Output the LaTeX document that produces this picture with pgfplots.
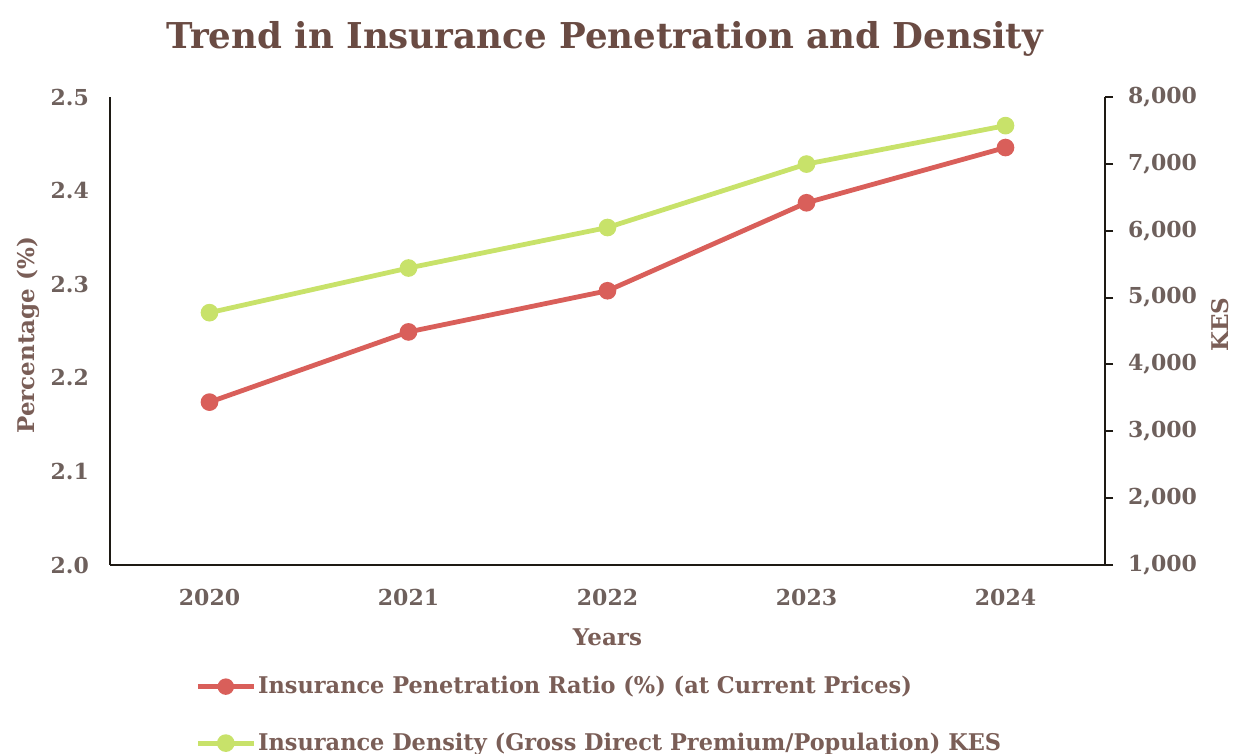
\documentclass[border=0pt]{standalone}
\usepackage{pgfplots}
\pgfplotsset{compat=1.18}
\usepackage{fontspec}
\setmainfont{DejaVu Serif}
\newfontfamily\legfont[FakeStretch=0.975]{DejaVu Serif}
\definecolor{txt}{HTML}{6E605C}
\definecolor{ttl}{HTML}{6A4B43}
\definecolor{lab}{HTML}{7A5E57}
\definecolor{pred}{HTML}{D95F5A}
\definecolor{pgreen}{HTML}{C8E26A}
\definecolor{axc}{HTML}{1E1A14}
\begin{document}
\begin{tikzpicture}
\useasboundingbox (-55pt,-94.5pt) rectangle (567pt,282.5pt);
\pgfplotsset{
  every axis/.append style={
    width=497.5pt, height=234pt, scale only axis,
    xmin=-0.5, xmax=4.5,
    axis line style={axc, line width=1pt},
    tick label style={font=\bfseries\fontsize{11}{13}\selectfont, text=txt},
    /pgf/number format/assume math mode=true,
  },
}
\begin{axis}[
  axis x line*=bottom, axis y line*=left,
  ymin=2.0, ymax=2.5,
  ytick={2.0,2.1,2.2,2.3,2.4,2.5},
  yticklabel style={/pgf/number format/fixed, /pgf/number format/fixed zerofill, /pgf/number format/precision=1},
  xtick={0,1,2,3,4},
  xticklabels={2020,2021,2022,2023,2024},
  major tick length=0pt,
  tick style={draw=none},
  yticklabel shift=7pt,
  xticklabel shift=8.5pt,
  clip=false,
]
\addplot[pred, line width=2.4pt, mark=*, mark size=3.2pt] coordinates {
  (0,2.174) (1,2.249) (2,2.293) (3,2.387) (4,2.446)
};
\node[font=\bfseries\fontsize{17.8}{20}\selectfont, text=ttl] at ([yshift=29pt]rel axis cs:0.497,1) {Trend in Insurance Penetration and Density};
\node[font=\bfseries\fontsize{11.5}{13}\selectfont, text=lab] at ([yshift=-36pt]rel axis cs:0.5,0) {Years};
\node[font=\bfseries\fontsize{11.5}{13}\selectfont, text=lab, rotate=90] at ([xshift=-41pt]rel axis cs:0,0.491) {Percentage (\%)};
\node[font=\bfseries\fontsize{11.5}{13}\selectfont, text=lab, rotate=90] at ([xshift=57.5pt]rel axis cs:1,0.513) {KES};
\end{axis}
\begin{axis}[
  axis y line*=right, axis x line=none,
  ymin=1000, ymax=8000,
  ytick={1000,2000,3000,4000,5000,6000,7000,8000},
  yticklabel style={/pgf/number format/1000 sep={,}},
  tick align=outside,
  ytick style={axc, line width=1pt},
  major tick length=4pt,
  yticklabel shift=4pt,
  legend style={
    at={(42.5pt,-54.5pt)}, anchor=north west,
    draw=none, fill=none, inner sep=0pt,
    font=\legfont\bfseries\fontsize{11.5}{13}\selectfont,
    text=lab,
    row sep=16pt,
    cells={anchor=west},
    nodes={inner sep=1pt},
  },
  legend cell align=left,
  legend image code/.code={
    \draw[mark repeat=2, mark phase=2, #1] plot coordinates {(0pt,0pt) (14pt,0pt) (28pt,0pt)};
  },
]
\addlegendimage{pred, line width=2.2pt, mark=*, mark size=3pt}
\addlegendentry{Insurance Penetration Ratio (\%) (at Current Prices)}
\addplot[pgreen, line width=2.4pt, mark=*, mark size=3.2pt] coordinates {
  (0,4774) (1,5442) (2,6048) (3,6997) (4,7572)
};
\addlegendentry{Insurance Density (Gross Direct Premium/Population) KES}
\end{axis}
\end{tikzpicture}
\end{document}
